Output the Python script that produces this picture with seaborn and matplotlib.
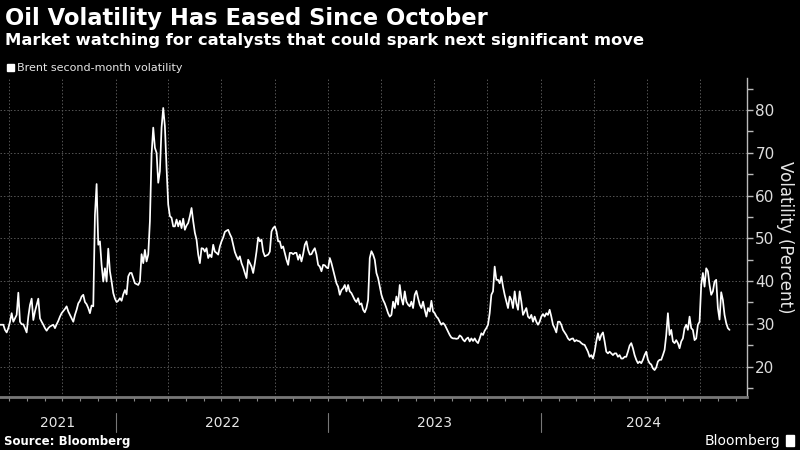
import pandas as pd
import matplotlib
matplotlib.use("Agg")
import matplotlib.pyplot as plt
import matplotlib.dates as mdates
import matplotlib.transforms as mtransforms
from matplotlib.ticker import MultipleLocator, NullFormatter
from matplotlib.patches import Rectangle
import seaborn as sns

title = "Oil Volatility Has Eased Since October"
subtitle = "Market watching for catalysts that could spark next significant move"
series_name = "Brent second-month volatility"
y_label = "Volatility (Percent)"
source = "Source: Bloomberg"
brand = "Bloomberg"

first_date = "2021-06-16"
last_date = "2024-11-20"
view_end = "2024-12-20"
years = ["2021", "2022", "2023", "2024"]
y_ticks = [20, 30, 40, 50, 60, 70, 80]

vol = [
    # mid 2021 -> early 2022
    29.8, 29.8, 29.8, 28.6, 28.0, 29.0, 30.5, 32.5, 30.5, 31.3, 32.1, 37.3, 30.5, 29.9, 29.9,
    29.0, 28.0, 31.7, 34.4, 35.9, 30.9, 32.9, 34.4, 35.9, 31.3, 30.5, 29.8, 29.0, 28.4, 29.0,
    29.4, 29.6, 29.8, 29.0, 29.9, 30.7, 31.7, 32.5, 33.0, 33.5, 34.1, 32.9, 32.1, 31.3, 30.5,
    32.1, 33.3, 34.8, 35.4, 36.4, 36.8, 35.1, 34.6, 33.7, 32.5, 34.3, 34.1, 55.5, 62.7, 48.5,
    49.3, 43.8, 39.9, 43.0, 39.9, 47.6, 42.3, 39.9, 37.2, 35.9, 35.1, 35.4, 36.0, 35.4, 36.9,
    # 2022
    37.9, 36.9, 41.1, 41.9, 41.9, 40.7, 39.5, 39.3, 39.1, 39.9, 46.3, 44.2, 47.3, 44.6, 46.2,
    54.0, 69.6, 75.9, 71.2, 70.0, 63.0, 65.7, 75.9, 80.5, 76.2, 66.5, 57.9, 55.2, 54.8, 52.8,
    52.8, 54.4, 52.8, 54.1, 52.4, 54.6, 52.0, 53.0, 53.6, 55.2, 57.1, 54.0, 51.3, 49.7, 46.2,
    44.2, 47.7, 47.6, 46.9, 47.7, 45.4, 46.2, 45.6, 48.5, 46.9, 46.6, 46.2, 48.1, 49.3, 50.2,
    51.5, 51.8, 52.0, 51.0, 50.2, 48.5, 46.8, 45.8, 45.0, 45.8, 44.2, 43.2, 41.9, 40.7, 45.0,
    44.2, 43.4, 41.9, 44.2, 46.9, 50.2, 49.3, 49.7, 46.9, 45.8, 46.0, 46.2, 46.9, 51.6, 52.4,
    52.8, 51.6, 49.3, 49.3, 47.7, 48.1, 46.6, 45.0, 43.8, 46.6, 46.6, 46.3, 46.6, 46.6, 45.0,
    46.2, 44.6, 46.3, 48.5, 49.3, 47.3, 46.2, 46.3, 47.1, 47.7, 46.2, 43.8, 43.4, 42.3, 43.8,
    43.7, 43.2, 43.0, 45.4, 44.2, 42.6, 41.1, 39.5, 38.7, 36.8, 37.9, 38.3, 39.1, 37.6, 39.1,
    37.6, 37.2, 36.4, 35.6, 35.1, 36.0, 34.5, 34.8, 33.3, 32.7, 33.7, 35.6, 45.4, 47.0, 46.2,
    # 2023
    45.0, 41.9, 40.7, 38.7, 36.8, 35.6, 34.8, 33.7, 32.5, 31.7, 32.1, 35.2, 33.7, 36.4, 34.5,
    39.1, 36.0, 34.5, 37.6, 35.2, 34.5, 34.1, 35.2, 33.7, 36.8, 37.7, 36.0, 34.5, 33.7, 35.2,
    33.3, 31.7, 33.7, 32.9, 35.4, 32.9, 32.5, 31.7, 31.3, 30.5, 29.8, 30.2, 29.8, 29.0, 28.2,
    27.4, 26.8, 26.6, 26.6, 26.5, 26.6, 27.3, 27.0, 26.3, 25.9, 26.5, 26.8, 25.9, 26.6, 26.0,
    26.6, 25.9, 25.5, 26.6, 27.8, 27.4, 28.4, 29.0, 29.8, 32.5, 36.8, 37.6, 43.4, 40.3, 40.3,
    39.5, 41.1, 38.7, 36.8, 35.2, 33.7, 36.4, 35.6, 33.7, 37.6, 34.8, 33.3, 37.6, 35.2, 32.1,
    32.9, 33.7, 31.7, 31.3, 32.1, 30.5, 31.7, 30.5, 29.8, 30.5, 31.7, 32.3, 31.7, 32.5, 32.1,
    33.3, 31.7, 29.8, 29.0, 28.0, 30.5, 30.5, 29.8, 28.6, 28.0, 27.4, 26.6, 26.2, 26.5, 26.6,
    25.9, 26.2, 26.0, 25.9, 25.5, 25.2, 25.1, 24.3, 23.5, 22.3, 22.7, 21.9, 23.5, 25.9, 27.8,
    26.2, 27.4, 28.0, 25.9, 23.5, 23.1, 23.5, 23.1, 22.7, 23.1, 23.1, 22.3, 22.7, 21.9, 21.9,
    # 2024
    22.3, 22.3, 23.5, 24.9, 25.5, 24.3, 22.7, 21.6, 20.8, 21.2, 20.8, 21.6, 22.7, 23.5, 21.6,
    20.8, 20.5, 19.6, 19.2, 19.8, 21.2, 21.6, 21.6, 22.7, 23.9, 27.4, 32.5, 27.4, 28.6, 25.9,
    25.5, 26.2, 25.5, 24.3, 25.9, 26.6, 29.0, 29.8, 28.6, 31.7, 29.0, 28.6, 26.2, 26.6, 29.8,
    30.5, 39.1, 41.9, 38.7, 43.0, 42.3, 39.1, 36.8, 37.6, 39.9, 40.3, 33.7, 31.0, 37.4, 35.6,
    32.1, 30.2, 29.0, 28.6,
]

df = pd.DataFrame({
    "date": pd.date_range(first_date, last_date, periods=len(vol)),
    "vol": vol,
})

sns.set_style("dark", {"axes.facecolor": "black", "figure.facecolor": "black"})
plt.rcParams["font.family"] = ["DejaVu Sans"]

fig = plt.figure(figsize=(8, 4.5), dpi=100, facecolor="black")
ax = fig.add_axes([0.0, 53 / 450, 747 / 800, 319 / 450])
ax.set_facecolor("black")

sns.lineplot(data=df, x="date", y="vol", color="white", linewidth=1.25, ax=ax)

x_lo = pd.Timestamp(first_date)
x_hi = pd.Timestamp(view_end)
ax.set_xlim(x_lo, x_hi)
ax.set_ylim(12.9, 87.5)
ax.set_xlabel("")
ax.set_ylabel("")

# y axis on the right
ax.yaxis.tick_right()
ax.set_yticks(y_ticks)
ax.yaxis.set_minor_locator(MultipleLocator(5))
ax.tick_params(axis="y", which="both", right=True, left=False, direction="out",
               length=4, width=1, color="#bbbbbb", labelcolor="#dddddd",
               labelsize=11, pad=2)

# x axis: quarterly grid, monthly ticks, no labels
ax.xaxis.set_major_locator(mdates.MonthLocator(bymonth=[1, 4, 7, 10]))
ax.xaxis.set_minor_locator(mdates.MonthLocator())
ax.xaxis.set_major_formatter(NullFormatter())
ax.tick_params(axis="x", which="both", bottom=True, direction="out",
               length=3, width=0.8, color="#888888")

ax.grid(True, which="major", color="#555555", linestyle=(0, (1.5, 2)), linewidth=0.7)
ax.set_axisbelow(True)

for side in ["top", "left"]:
    ax.spines[side].set_visible(False)
ax.spines["right"].set_color("#bbbbbb")
ax.spines["right"].set_linewidth(1)
ax.spines["bottom"].set_color("#777777")
ax.spines["bottom"].set_linewidth(2)

# year labels centred on the visible part of each year, with dividers
trans = mtransforms.blended_transform_factory(ax.transData, ax.transAxes)
for yr in years:
    a = max(pd.Timestamp(f"{yr}-01-01"), x_lo)
    b = min(pd.Timestamp(f"{int(yr) + 1}-01-01"), x_hi)
    mid = mdates.date2num(a + (b - a) / 2)
    ax.text(mid, -0.082, yr, transform=trans, ha="center", va="center",
            color="#e6e6e6", fontsize=10)
    if a > x_lo:
        xa = mdates.date2num(a)
        ax.plot([xa, xa], [-0.05, -0.11], transform=trans, color="#777777",
                linewidth=0.8, clip_on=False)

fig.text(785 / 800, 0.473, y_label, rotation=270, ha="center", va="center",
         color="#e6e6e6", fontsize=12)

# headings
fig.text(5 / 800, 1 - 25 / 450, title, ha="left", va="baseline",
         color="white", fontsize=16.3, fontweight="bold")
fig.text(5 / 800, 1 - 45 / 450, subtitle, ha="left", va="baseline",
         color="white", fontsize=11.8, fontweight="bold")
fig.patches.append(Rectangle((7 / 800, 1 - 71 / 450), 7 / 800, 7 / 450,
                             transform=fig.transFigure, color="white"))
fig.text(17 / 800, 1 - 71 / 450, series_name, ha="left", va="baseline",
         color="#e6e6e6", fontsize=8)

fig.text(4 / 800, 1 - 445 / 450, source, ha="left", va="baseline",
         color="white", fontsize=8.5, fontweight="bold")
fig.text(780 / 800, 1 - 445 / 450, brand, ha="right", va="baseline",
         color="white", fontsize=10)
fig.patches.append(Rectangle((786 / 800, 1 - 446 / 450), 8 / 800, 11 / 450,
                             transform=fig.transFigure, color="white"))

fig.savefig("out.png", dpi=100, facecolor="black")
